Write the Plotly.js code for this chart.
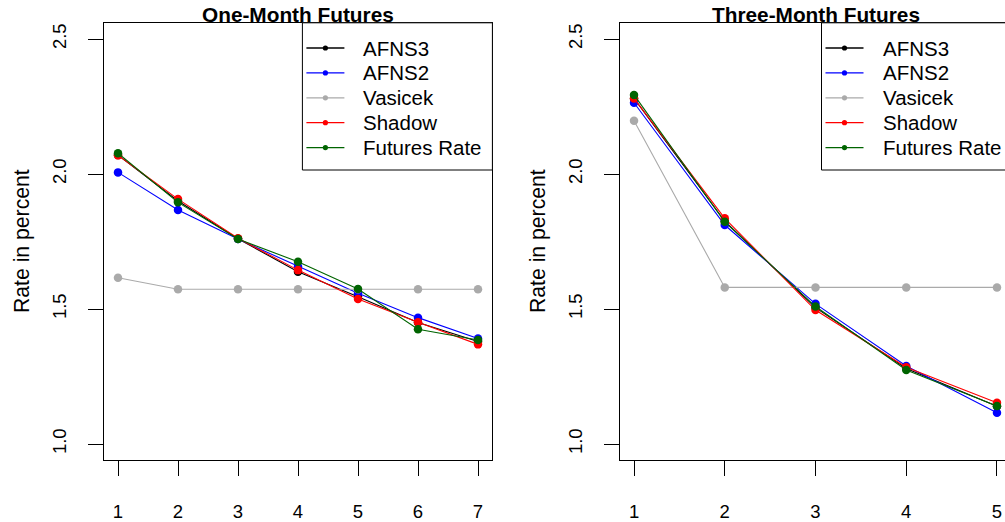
<!DOCTYPE html>
<html>
<head>
<meta charset="utf-8">
<script src="https://cdn.plot.ly/plotly-3.0.1.min.js"></script>
<style>
html,body{margin:0;padding:0;overflow:hidden;background:#fff;}
#chart{width:1030px;height:522px;}
</style>
</head>
<body>
<div id="chart"></div>
<script>
// ---------- Data ----------
const seriesNames = ["AFNS3", "AFNS2", "Vasicek", "Shadow", "Futures Rate"];
const seriesColors = ["#000000", "#0000ff", "#aaaaaa", "#ff0000", "#006400"];

// One-Month Futures
const monthsOne = [1, 2, 3, 4, 5, 6, 7];
const afns3One   = [2.070, 1.900, 1.760, 1.638, 1.545, 1.450, 1.380];
const afns2One   = [2.006, 1.867, 1.759, 1.657, 1.558, 1.468, 1.391];
const vasicekOne = [1.616, 1.573, 1.573, 1.573, 1.573, 1.573, 1.573];
const shadowOne  = [2.069, 1.907, 1.762, 1.644, 1.537, 1.451, 1.369];
const futuresOne = [2.077, 1.895, 1.759, 1.675, 1.574, 1.425, 1.385];

// Three-Month Futures
const monthsThree = [1, 2, 3, 4, 5];
const afns3Three   = [2.280, 1.825, 1.505, 1.280, 1.140];
const afns2Three   = [2.264, 1.811, 1.519, 1.289, 1.116];
const vasicekThree = [2.197, 1.580, 1.580, 1.580, 1.580];
const shadowThree  = [2.280, 1.836, 1.496, 1.284, 1.153];
const futuresThree = [2.293, 1.823, 1.509, 1.274, 1.141];

const yTickVals = [1.0, 1.5, 2.0, 2.5];
const yTickText = ["1.0", "1.5", "2.0", "2.5"];

const panelTitles = ["One-Month Futures", "Three-Month Futures"];
const yTitle = "Rate in percent";

// ---------- Geometry ----------
const FONT = "Liberation Sans, Arial, sans-serif";
const W = 1030, H = 522;
const px = v => v / W;
const py = v => 1 - v / H;
const x1L = 103.6, x1R = 492.4, x2L = 619.5, x2R = 1011.5, yT = 22.8, yB = 460.2;
const yRange = [0.94, 2.56];
const xRangeOne = [0.76, 7.24], xRangeThree = [0.84, 5.16];

const shapes = [];
const traces = [];

function addPanel(xs, ys, xa, ya) {
  ys.forEach((y, i) => {
    traces.push({
      x: xs, y: y, xaxis: xa, yaxis: ya, type: "scatter", mode: "lines+markers",
      name: seriesNames[i], showlegend: false, hoverinfo: "skip",
      line: {color: seriesColors[i], width: 1.1},
      marker: {color: seriesColors[i], size: 8.5, line: {width: 0}}
    });
  });
}
addPanel(monthsOne, [afns3One, afns2One, vasicekOne, shadowOne, futuresOne], "x", "y");
addPanel(monthsThree, [afns3Three, afns2Three, vasicekThree, shadowThree, futuresThree], "x2", "y2");

// ---------- Axes ----------
const xCommon = {
  showline: true, mirror: true, linecolor: "#000", linewidth: 1,
  ticks: "outside", ticklen: 15, tickwidth: 1, tickcolor: "#000",
  showgrid: false, zeroline: false, layer: "above traces",
  tickfont: {family: FONT, size: 18.5, color: "#000"},
  ticklabelstandoff: 20
};
const yCommon = Object.assign({}, xCommon, {
  range: yRange, tickvals: yTickVals, ticktext: yTickText,
  tickangle: -90, ticklabelstandoff: 14,
  domain: [py(yB), py(yT)]
});

const layout = {
  width: W, height: H,
  margin: {l: 0, r: 0, t: 0, b: 0},
  paper_bgcolor: "#fff", plot_bgcolor: "#fff",
  font: {family: FONT, color: "#000"},
  showlegend: false,
  xaxis: Object.assign({}, xCommon, {domain: [px(x1L), px(x1R)], range: xRangeOne, tickvals: monthsOne, anchor: "y"}),
  yaxis: Object.assign({}, yCommon, {anchor: "x"}),
  xaxis2: Object.assign({}, xCommon, {domain: [px(x2L), px(x2R)], range: xRangeThree, tickvals: monthsThree, anchor: "y2"}),
  yaxis2: Object.assign({}, yCommon, {anchor: "x2"}),
  shapes: shapes,
  annotations: [
    {text: "<b>" + panelTitles[0] + "</b>", xref: "paper", yref: "paper", x: px((x1L + x1R) / 2), y: py(14),
     xanchor: "center", yanchor: "middle", showarrow: false, font: {family: FONT, size: 20.8, color: "#000"}},
    {text: "<b>" + panelTitles[1] + "</b>", xref: "paper", yref: "paper", x: px((x2L + x2R) / 2), y: py(14),
     xanchor: "center", yanchor: "middle", showarrow: false, font: {family: FONT, size: 20.8, color: "#000"}},
    {text: yTitle, xref: "paper", yref: "paper", x: px(22), y: py(241), textangle: -90,
     xanchor: "center", yanchor: "middle", showarrow: false, font: {family: FONT, size: 21.2, color: "#000"}},
    {text: yTitle, xref: "paper", yref: "paper", x: px(538), y: py(241), textangle: -90,
     xanchor: "center", yanchor: "middle", showarrow: false, font: {family: FONT, size: 21.2, color: "#000"}}
  ]
};

// ---------- Legend boxes (R-style, top-right of each panel) ----------
function addLegend(rightEdge) {
  const left = rightEdge - 190, top = yT, bottom = 170;
  shapes.push({type: "rect", xref: "paper", yref: "paper", layer: "above",
    x0: px(left), x1: px(rightEdge), y0: py(bottom), y1: py(top),
    line: {color: "#000", width: 1}, fillcolor: "#fff"});
  seriesNames.forEach((nm, i) => {
    const yc = 48 + i * 24.9;
    shapes.push({type: "line", xref: "paper", yref: "paper", layer: "above",
      x0: px(left + 4), x1: px(left + 42), y0: py(yc), y1: py(yc),
      line: {color: seriesColors[i], width: 1.3}});
    shapes.push({type: "circle", xref: "paper", yref: "paper", layer: "above",
      x0: px(left + 23 - 2.6), x1: px(left + 23 + 2.6), y0: py(yc + 2.6), y1: py(yc - 2.6),
      line: {width: 0}, fillcolor: seriesColors[i]});
    layout.annotations.push({text: nm, xref: "paper", yref: "paper", x: px(left + 59), y: py(yc),
      xanchor: "left", yanchor: "middle", showarrow: false,
      font: {family: FONT, size: 20.5, color: "#000"}});
  });
}
addLegend(x1R);
addLegend(x2R);

Plotly.newPlot("chart", traces, layout, {staticPlot: true, displayModeBar: false});
</script>
</body>
</html>
